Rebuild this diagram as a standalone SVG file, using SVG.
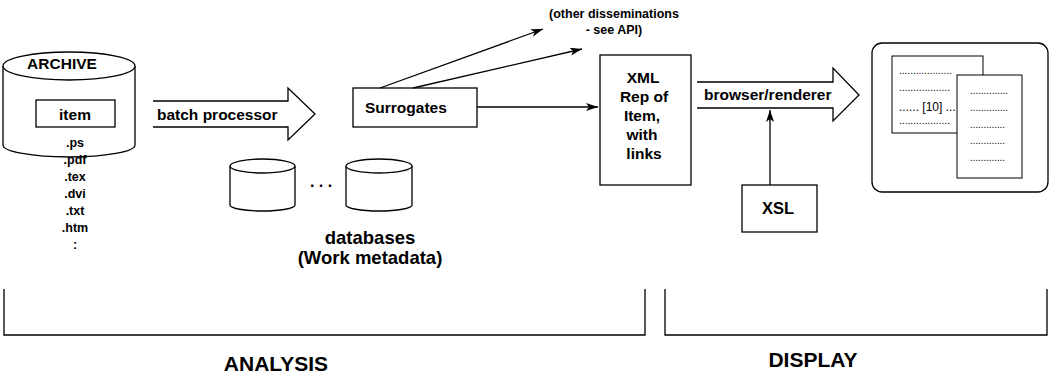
<svg xmlns="http://www.w3.org/2000/svg" width="1053" height="379" viewBox="0 0 1053 379">
<defs>
<style>
.s{fill:none;stroke:#000;stroke-width:1.3}
.w{fill:#fff;stroke:#000;stroke-width:1.3}
.t{font-family:"Liberation Sans",Arial,Helvetica,sans-serif;font-weight:bold;font-size:15.5px;fill:#000}
.c{text-anchor:middle}
.sm{font-size:12.5px}
.big{font-size:21px}
.db{font-size:18.5px}
.d{font-family:"Liberation Sans",Arial,Helvetica,sans-serif;font-size:10px;fill:#000}
.thin{fill:#fff;stroke:#000;stroke-width:1}
</style>
<marker id="ah" viewBox="0 0 12 8" refX="12" refY="4" markerWidth="12" markerHeight="8" markerUnits="userSpaceOnUse" orient="auto">
<path d="M0,0 L12,4 L0,8 L3,4 z" fill="#000"/>
</marker>
</defs>
<rect width="1053" height="379" fill="#fff"/>

<g id="archive">
<path class="w" d="M3,66 V145 A66,12 0 0 0 135,145 V66"/>
<ellipse class="w" cx="69" cy="66" rx="66" ry="14"/>
<text class="t c" x="62" y="69">ARCHIVE</text>
<rect class="s" x="36" y="100" width="79" height="27"/>
<text class="t c" x="75" y="120">item</text>
<text class="t c sm" x="75" y="147">.ps</text>
<text class="t c sm" x="75" y="164">.pdf</text>
<text class="t c sm" x="75" y="181">.tex</text>
<text class="t c sm" x="75" y="198">.dvi</text>
<text class="t c sm" x="75" y="215">.txt</text>
<text class="t c sm" x="75" y="232">.htm</text>
<text class="t c sm" x="75" y="249">:</text>
</g>

<g id="batch-processor">
<path class="w" d="M153,101 H288 V88 L315,114 L288,140 V127 H153"/>
<text class="t" x="157" y="120">batch processor</text>
</g>

<g id="surrogates">
<rect class="s" x="353" y="88" width="124" height="39"/>
<text class="t" x="365" y="113">Surrogates</text>
</g>

<g id="databases">
<path class="w" d="M230,166 V205 A32.5,6 0 0 0 295,205 V166"/>
<ellipse class="w" cx="262.5" cy="166" rx="32.5" ry="7"/>
<text class="t c" x="321" y="187" style="font-size:16px">. . .</text>
<path class="w" d="M346,166 V205 A33,6 0 0 0 412,205 V166"/>
<ellipse class="w" cx="379" cy="166" rx="33" ry="7"/>
<text class="t c db" x="370" y="244">databases</text>
<text class="t c db" x="370" y="264">(Work metadata)</text>
</g>

<g id="other-disseminations">
<text class="t c sm" x="614" y="18">(other disseminations</text>
<text class="t c sm" x="614" y="34">- see API)</text>
</g>

<g id="xml-rep">
<rect class="s" x="600" y="55" width="91" height="130"/>
<text class="t c" x="643" y="83">XML</text>
<text class="t c" x="644" y="102">Rep of</text>
<text class="t c" x="642" y="121">Item,</text>
<text class="t c" x="642" y="140">with</text>
<text class="t c" x="644" y="159">links</text>
</g>

<g id="browser-renderer">
<path class="w" d="M697,82 H833 V68 L859,95 L833,121 V108 H697"/>
<text class="t" x="704" y="100">browser/renderer</text>
</g>

<g id="xsl">
<rect class="s" x="742" y="185" width="75" height="47"/>
<text class="t c" x="778" y="214" style="font-size:16.5px">XSL</text>
</g>

<g id="display-screen">
<rect class="s" x="872" y="43" width="176" height="149" rx="10"/>
<rect class="thin" x="892" y="56" width="91" height="77"/>
<text class="d" x="899" y="74" textLength="53" lengthAdjust="spacingAndGlyphs">...................</text>
<text class="d" x="899" y="91" textLength="51" lengthAdjust="spacingAndGlyphs">..................</text>
<text class="d" x="899" y="111" style="font-size:12px">...... [10] ...</text>
<text class="d" x="899" y="124" textLength="51" lengthAdjust="spacingAndGlyphs">..................</text>
<rect class="thin" x="957" y="75" width="65" height="103"/>
<text class="d" x="970" y="94" textLength="38" lengthAdjust="spacingAndGlyphs">..............</text>
<text class="d" x="970" y="111" textLength="38" lengthAdjust="spacingAndGlyphs">..............</text>
<text class="d" x="970" y="128" textLength="35" lengthAdjust="spacingAndGlyphs">.............</text>
<text class="d" x="970" y="144" textLength="35" lengthAdjust="spacingAndGlyphs">.............</text>
<text class="d" x="970" y="161" textLength="35" lengthAdjust="spacingAndGlyphs">.............</text>
</g>

<g id="connectors">
<line class="s" x1="380" y1="88" x2="543" y2="29" marker-end="url(#ah)"/>
<line class="s" x1="413" y1="88" x2="582" y2="49" marker-end="url(#ah)"/>
<line class="s" x1="477" y1="107" x2="598" y2="107" marker-end="url(#ah)"/>
<line class="s" x1="770" y1="185" x2="770" y2="110" marker-end="url(#ah)"/>
</g>

<g id="analysis">
<path class="s" d="M4,289 V335 H645 V289"/>
<text class="t c big" x="276" y="371">ANALYSIS</text>
</g>

<g id="display">
<path class="s" d="M665,289 V335 H1047 V289"/>
<text class="t c big" x="813" y="367">DISPLAY</text>
</g>
</svg>
